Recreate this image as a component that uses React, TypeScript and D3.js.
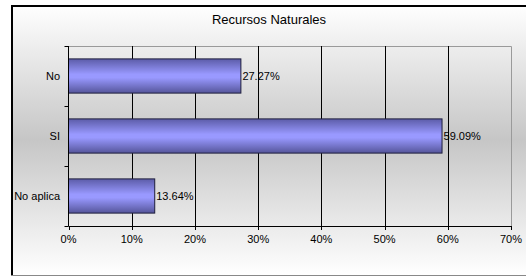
import React from "react";
import * as d3 from "d3";

// Data
const categories = ["No", "SI", "No aplica"];
const percentages = [27.27, 59.09, 13.64];
const xTicks = [0, 10, 20, 30, 40, 50, 60, 70];
const chartTitle = "Recursos Naturales";

const App = () => {
  const width = 526;
  const height = 276;
  const plot = { left: 68.5, right: 511, top: 46, bottom: 226 };

  const x = d3.scaleLinear().domain([0, 70]).range([plot.left, plot.right]);
  const y = d3
    .scaleBand<string>()
    .domain(categories)
    .range([plot.top, plot.bottom])
    .paddingInner(0.43)
    .paddingOuter(0.215);

  const font = "'Liberation Sans', Arial, sans-serif";
  const bandEdges = [plot.top, ...categories.map((c) => (y(c) as number) + y.bandwidth() + (y.step() * 0.43) / 2)];

  return (
    <svg
      width={width}
      height={height}
      style={{ position: "absolute", left: 0, top: 0, fontFamily: font }}
    >
      <defs>
        <linearGradient id="bg" x1="0" y1="0" x2="0" y2="1">
          <stop offset="0" stopColor="#ffffff" />
          <stop offset="0.5" stopColor="#c6c6c6" />
          <stop offset="1" stopColor="#ffffff" />
        </linearGradient>
        <linearGradient id="bar" x1="0" y1="0" x2="0" y2="1">
          <stop offset="0" stopColor="#5c5ca8" />
          <stop offset="0.45" stopColor="#9999ff" />
          <stop offset="0.55" stopColor="#9999ff" />
          <stop offset="1" stopColor="#55559a" />
        </linearGradient>
      </defs>

      {/* chart area */}
      <rect x={11} y={5} width={516} height={270} fill="url(#bg)" />
      <path d="M12,275 V6 H527" fill="none" stroke="#000" strokeWidth={2} />
      <line x1={11} x2={527} y1={275.5} y2={275.5} stroke="#888" />

      <text x={269} y={24} textAnchor="middle" fontSize={13} fill="#000">
        {chartTitle}
      </text>

      {/* plot area border */}
      <path
        d={`M${plot.left},${plot.top + 0.5} H${plot.right + 0.5} V${plot.bottom}`}
        fill="none"
        stroke="#9a9a9a"
      />

      {/* vertical gridlines */}
      {xTicks.slice(1, -1).map((t) => (
        <line
          key={t}
          x1={Math.round(x(t)) + 0.5}
          x2={Math.round(x(t)) + 0.5}
          y1={plot.top}
          y2={plot.bottom}
          stroke="#000"
        />
      ))}

      {/* bars */}
      {categories.map((c, i) => (
        <g key={c}>
          <rect
            x={x(0)}
            y={y(c)}
            width={x(percentages[i]) - x(0)}
            height={y.bandwidth()}
            fill="url(#bar)"
            stroke="#1e1e3c"
            strokeWidth={1}
          />
          <text
            x={x(percentages[i]) + 1.5}
            y={(y(c) as number) + y.bandwidth() / 2}
            dy="0.35em"
            fontSize={11}
            fill="#000"
          >
            {percentages[i].toFixed(2)}%
          </text>
          <text
            x={60}
            y={(y(c) as number) + y.bandwidth() / 2}
            dy="0.35em"
            textAnchor="end"
            fontSize={11}
            fill="#000"
          >
            {c}
          </text>
        </g>
      ))}

      {/* y axis */}
      <line x1={plot.left} x2={plot.left} y1={plot.top} y2={plot.bottom} stroke="#000" />
      {bandEdges.map((b, i) => (
        <line key={i} x1={plot.left - 4} x2={plot.left} y1={Math.round(b) + 0.5} y2={Math.round(b) + 0.5} stroke="#000" />
      ))}

      {/* x axis */}
      <line x1={plot.left} x2={plot.right + 0.5} y1={plot.bottom + 0.5} y2={plot.bottom + 0.5} stroke="#000" />
      {xTicks.map((t) => (
        <g key={t}>
          <line
            x1={Math.round(x(t)) + 0.5}
            x2={Math.round(x(t)) + 0.5}
            y1={plot.bottom}
            y2={plot.bottom + 4}
            stroke="#000"
          />
          <text x={x(t)} y={243} textAnchor="middle" fontSize={11} fill="#000">
            {t}%
          </text>
        </g>
      ))}
    </svg>
  );
};

export default App;
